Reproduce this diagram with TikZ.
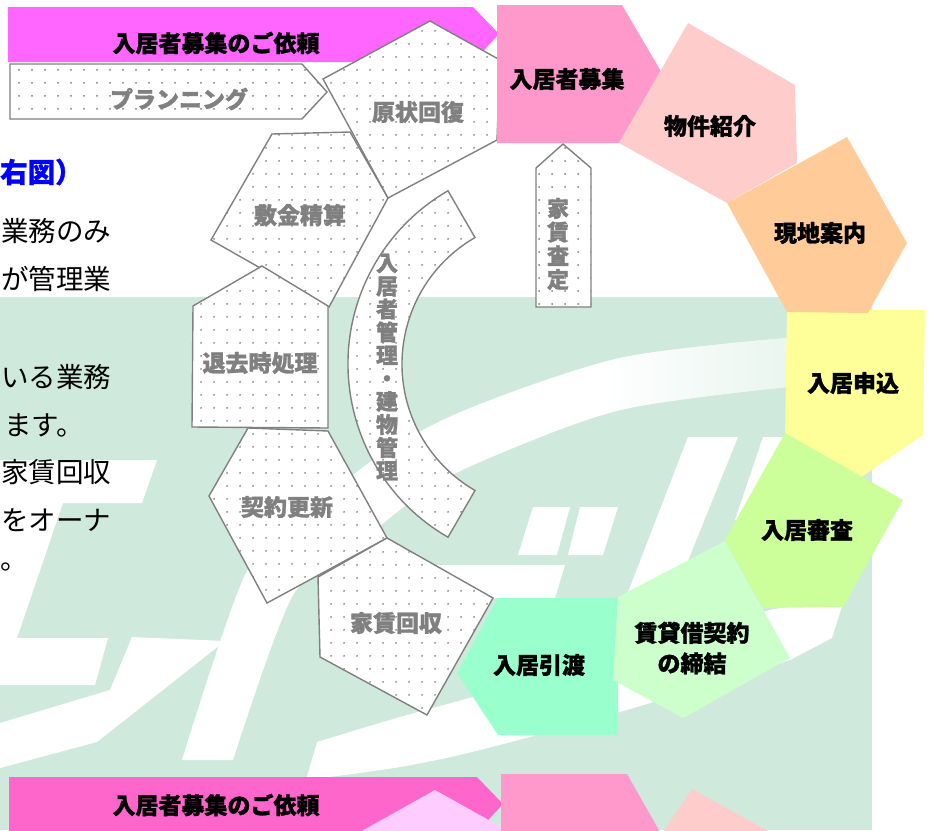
\documentclass[tikz,border=0pt]{standalone}
\usepackage{fontspec}
\newfontfamily\jp{Noto Sans CJK JP}[BoldFeatures={FakeBold=1.2}]
\usetikzlibrary{patterns.meta}
\definecolor{bggreen}{RGB}{207,234,220}
\definecolor{magA}{RGB}{255,102,255}
\definecolor{magB}{RGB}{255,102,204}
\definecolor{pinkA}{RGB}{255,153,204}
\definecolor{pinkB}{RGB}{255,204,204}
\definecolor{orangeA}{RGB}{255,204,153}
\definecolor{yellowA}{RGB}{255,255,153}
\definecolor{limeA}{RGB}{204,255,153}
\definecolor{mintA}{RGB}{204,255,204}
\definecolor{mintB}{RGB}{153,255,204}
\definecolor{lilac}{RGB}{255,204,255}
\definecolor{edgegray}{RGB}{128,128,128}
\definecolor{dotgray}{RGB}{125,125,125}
\definecolor{bluetext}{RGB}{0,0,255}
\pgfdeclarepattern{
  name=graydots,
  type=uncolored,
  bottom left={\pgfpoint{0pt}{0pt}},
  top right={\pgfpoint{13pt}{13pt}},
  tile size={\pgfpoint{13pt}{13pt}},
  code={\pgfpathcircle{\pgfpoint{6.5pt}{6.5pt}}{1.05pt}\pgfusepath{fill}}
}
\begin{document}
\begin{tikzpicture}[x=1pt,y=-1pt,
  dotshape/.style={draw=edgegray, line width=1.4pt, line join=miter, preaction={fill=white}, pattern=graydots, pattern color=dotgray},
  lbl/.style={font=\jp\bfseries\fontsize{23}{24}\selectfont, text=black, inner sep=0pt},
  glbl/.style={lbl, text=edgegray},
  bodytext/.style={font=\jp\fontsize{27.5}{28}\selectfont, text=black, anchor=west, inner sep=0pt},
  wm/.style={fill=white, draw=none}]
\useasboundingbox (0,0) rectangle (931,830);
\begin{scope}
\clip (0,0) rectangle (931,830);
% background panel
\fill[bggreen] (0,297) rectangle (872,830);
% watermark strokes
\fill[wm] (0,460) -- (157,460) -- (142,503) -- (63,503) -- (17,638) -- (108,638) -- (95,685) -- (0,685) -- cycle;
\fill[wm] (132,637) -- (225,641) -- (97,742) -- (0,768) -- (0,723) -- (110,690) -- cycle;
\fill[wm] plot[smooth] coordinates {(182,760) (245,575) (300,520) (380,455) (470,408) (620,358) (787,338)}
  -- plot[smooth] coordinates {(787,387) (620,410) (480,462) (420,495) (350,550) (292,597) (233,760)} -- cycle;
\begin{scope}
\clip plot[smooth] coordinates {(182,760) (245,575) (300,520) (380,455) (470,408) (620,358) (787,338)}
  -- plot[smooth] coordinates {(787,387) (620,410) (480,462) (420,495) (350,550) (292,597) (233,760)} -- cycle;
\shade[left color=white, right color=bggreen!45!white] (600,300) rectangle (790,430);
\end{scope}
\fill[wm] plot[smooth] coordinates {(317,742) (400,717) (480,695) (620,655) (770,610) (842,606)}
  -- (832,638) -- plot[smooth] coordinates {(790,660) (620,712) (480,750) (400,767) (306,780)} -- cycle;
\fill[wm] (533,507) -- (570,507) -- (557,555) -- (518,555) -- cycle;
\fill[wm] (580,507) -- (618,507) -- (603,555) -- (568,555) -- cycle;
\fill[wm] (688,437) -- (738,437) -- (672,600) -- (625,600) -- cycle;
\fill[wm] (763,437) -- (800,437) -- (770,520) -- (735,520) -- cycle;
\fill[wm] (390,565) -- (565,565) -- (555,598) -- (390,598) -- cycle;
% left body text
\node[bodytext, font=\jp\bfseries\fontsize{27.5}{28}\selectfont, text=bluetext] (t0) at (0,172) {右図）};
\node[bodytext] (t1) at (1,231) {業務のみ};
\node[bodytext] (t2) at (1,279) {が管理業};
\node[bodytext] (t3) at (1,377) {いる業務};
\node[bodytext] (t4) at (4,425) {ます。};
\node[bodytext] (t5) at (1,472) {家賃回収};
\node[bodytext] (t6) at (1,520) {をオーナ};
\node[bodytext] (t7) at (0,567) {。};
% top banner
\fill[magA] (8,7) -- (473,7) -- (499,34) -- (473,62) -- (8,62) -- cycle;
\node[lbl] (banner) at (216,43) {入居者募集のご依頼};
% dotted (management) shapes
\path[dotshape] (10,64) -- (302,64) -- (327,92) -- (302,119) -- (10,119) -- cycle;
\node[glbl] (plan) at (179,99) {プランニング};
\path[dotshape] (272,134) -- (350,132) -- (388,198) -- (329,307) -- (211,240) -- cycle;
\node[glbl] (shiki) at (300,215) {敷金精算};
\path[dotshape] (262,266) -- (328,306) -- (328,428) -- (192,427) -- (193,306) -- cycle;
\node[glbl] (taikyo) at (260,363) {退去時処理};
\path[dotshape] (248,428) -- (328,431) -- (387,538) -- (267,603) -- (209,496) -- cycle;
\node[glbl] (koshin) at (287,507) {契約更新};
\path[dotshape] (387,538) -- (493,598) -- (427,715) -- (320,657) -- (318,577) -- cycle;
\node[glbl] (kaishu) at (396,623) {家賃回収};
\coordinate (ac) at (548,364);
\path[dotshape] ([shift={(ac)}]120:200) arc[start angle=120, end angle=240, radius=200]
  -- ([shift={(ac)}]240:146) arc[start angle=240, end angle=120, radius=146] -- cycle;
\node[glbl, align=center, font=\jp\bfseries\fontsize{22}{23.1}\selectfont] (kanri) at (387,367) {入\\居\\者\\管\\理\\・\\建\\物\\管\\理};
\path[dotshape] (563,144) -- (591,168) -- (591,307) -- (536,307) -- (536,168) -- cycle;
\node[glbl, align=center, font=\jp\bfseries\fontsize{22}{23.7}\selectfont] (satei) at (558,244) {家\\賃\\査\\定};
\path[dotshape] (430,21) -- (500,60) -- (497,140) -- (388,198) -- (323,79) -- cycle;
\node[glbl] (genjo) at (418,112) {原状回復};
% colored (leasing) shapes
\fill[pinkA] (497,5) -- (622,5) -- (672,90) -- (619,143) -- (497,143) -- cycle;
\node[lbl] (boshu) at (567,79) {入居者募集};
\fill[pinkB] (688,23) -- (795,85) -- (797,163) -- (727,203) -- (619,143) -- cycle;
\node[lbl] (shokai) at (710,126) {物件紹介};
\fill[yellowA] (787,310) -- (925,310) -- (923,435) -- (860,478) -- (785,440) -- cycle;
\node[lbl] (moshikomi) at (853,383) {入居申込};
\fill[orangeA] (847,137) -- (907,243) -- (868,313) -- (787,312) -- (727,203) -- cycle;
\node[lbl] (annai) at (820,233) {現地案内};
\fill[limeA] (785,433) -- (903,500) -- (843,607) -- (763,608) -- (725,540) -- cycle;
\node[lbl] (shinsa) at (807,530) {入居審査};
\fill[mintB] (498,598) -- (618,598) -- (618,735) -- (498,735) -- (457,673) -- cycle;
\node[lbl] (hikiwatashi) at (539,665) {入居引渡};
\fill[mintA] (725,541) -- (790,658) -- (683,718) -- (613,680) -- (618,597) -- cycle;
\node[lbl, align=center, font=\jp\bfseries\fontsize{23}{30.5}\selectfont] (keiyaku) at (692,648) {賃貸借契約\\の締結};
% bottom repeat (cut by the lower edge)
\fill[magB] (9,777) -- (477,777) -- (503,804) -- (477,832) -- (9,832) -- cycle;
\node[lbl] (banner2) at (216,805) {入居者募集のご依頼};
\fill[lilac] (435,790) -- (510,832) -- (360,832) -- cycle;
\fill[pinkA] (501,774) -- (627,774) -- (660,832) -- (501,832) -- cycle;
\fill[pinkB] (692,789) -- (770,832) -- (663,832) -- cycle;
\end{scope}
\end{tikzpicture}
\end{document}
